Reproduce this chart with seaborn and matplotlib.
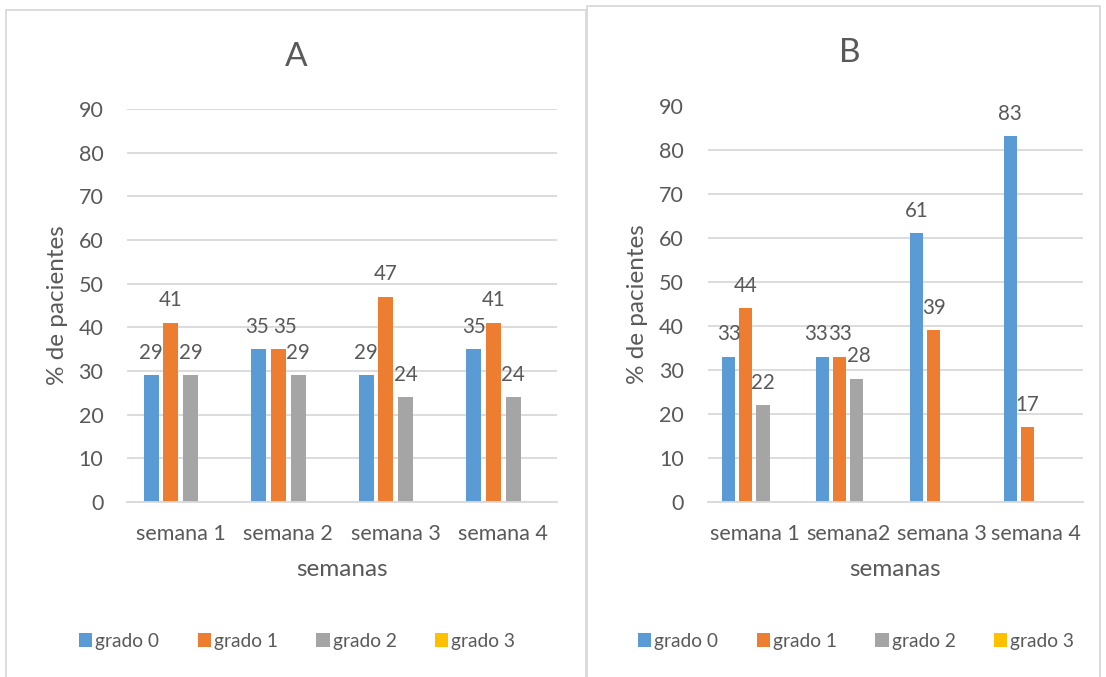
import matplotlib
matplotlib.use("Agg")
import matplotlib.pyplot as plt
from matplotlib.patches import Rectangle
import pandas as pd
import seaborn as sns

# ---- data -------------------------------------------------------------
grados = ["grado 0", "grado 1", "grado 2", "grado 3"]
colores = ["#5B9BD5", "#ED7D31", "#A5A5A5", "#FFC000"]

semanas_a = ["semana 1", "semana 2", "semana 3", "semana 4"]
a_grado0 = [29, 35, 29, 35]
a_grado1 = [41, 35, 47, 41]
a_grado2 = [29, 29, 24, 24]
a_grado3 = [0, 0, 0, 0]

semanas_b = ["semana 1", "semana2", "semana 3", "semana 4"]
b_grado0 = [33, 33, 61, 83]
b_grado1 = [44, 33, 39, 17]
b_grado2 = [22, 28, 0, 0]
b_grado3 = [0, 0, 0, 0]

yticks = [0, 10, 20, 30, 40, 50, 60, 70, 80, 90]

# ---- styling ----------------------------------------------------------
sns.set_theme(style="white")
plt.rcParams["font.family"] = ["Lato", "DejaVu Sans"]
TXT = "#595959"
GRID = "#D9D9D9"
FS_TICK = 15.5
FS_VAL = 14.8
FS_LAB = 17.5
FS_LEG = 13.8
LABEL_PAD = 9

W, H = 1106, 677
fig = plt.figure(figsize=(W / 100, H / 100), dpi=100)


def fx(px):
    return px / W


def fy(py):
    return 1 - py / H


def long_table(semanas, series):
    rows = []
    for g, vals in zip(grados, series):
        for s, v in zip(semanas, vals):
            rows.append({"semana": s, "grado": g, "pct": v})
    return pd.DataFrame(rows)


def panel(frame, axrect, semanas, series, title, title_xy, ylab_x, leg_xy,
          nudges=None):
    nudges = nudges or {}
    # chart-area frame
    x0, y0, x1, y1 = frame
    fig.add_artist(Rectangle((fx(x0), fy(y1)), fx(x1) - fx(x0), fy(y0) - fy(y1),
                             transform=fig.transFigure, fill=False,
                             edgecolor=GRID, linewidth=1.3))
    l, t, r, b = axrect
    ax = fig.add_axes([fx(l), fy(b), fx(r) - fx(l), fy(t) - fy(b)])
    df = long_table(semanas, series)
    sns.barplot(data=df, x="semana", y="pct", hue="grado", hue_order=grados,
                order=semanas, palette=colores, saturation=1, width=0.73,
                gap=0.23, errorbar=None, linewidth=0, ax=ax, legend=True)
    for hi, cont in enumerate(ax.containers):
        labs = [f"{v:g}" if v else "" for v in cont.datavalues]
        anns = ax.bar_label(cont, labels=labs, padding=LABEL_PAD,
                            fontsize=FS_VAL, color=TXT)
        # shift crowded value labels sideways (pixels -> points)
        for ci, ann in enumerate(anns):
            dx = nudges.get((ci, hi), 0) * 0.72
            ann.xyann = (dx, LABEL_PAD)
    ax.set_ylim(0, 90)
    ax.set_yticks(yticks)
    ax.yaxis.grid(True, color=GRID, linewidth=1.3)
    ax.set_axisbelow(True)
    for s in ["top", "right", "left"]:
        ax.spines[s].set_visible(False)
    ax.spines["bottom"].set_color(GRID)
    ax.spines["bottom"].set_linewidth(1.3)
    ax.tick_params(axis="both", length=0, labelsize=FS_TICK, labelcolor=TXT)
    ax.tick_params(axis="y", pad=17)
    ax.tick_params(axis="x", pad=16)
    ax.set_xlabel("semanas", fontsize=FS_LAB, color=TXT, labelpad=11)
    ax.set_ylabel("% de pacientes", fontsize=FS_LAB, color=TXT,
                  va="center", rotation_mode="anchor")
    ax.yaxis.set_label_coords((ylab_x - l) / (r - l), 0.5)
    sns.move_legend(ax, loc="center", bbox_to_anchor=(fx(leg_xy[0]), fy(leg_xy[1])),
                    bbox_transform=fig.transFigure, ncol=4, frameon=False,
                    title=None, fontsize=FS_LEG, handlelength=0.7,
                    handleheight=0.7, handletextpad=0.15, columnspacing=2.0)
    for txt in ax.get_legend().get_texts():
        txt.set_color(TXT)
    fig.text(fx(title_xy[0]), fy(title_xy[1]), title, ha="center",
             va="baseline", fontsize=24, color=TXT)
    return ax


panel((6, 10, 586, 690), (127, 109, 557, 502), semanas_a,
      [a_grado0, a_grado1, a_grado2, a_grado3], "A", (296, 66), 57, (297, 641),
      nudges={(1, 0): -2, (1, 1): 7})
panel((587, 6, 1100, 690), (707.5, 105.5, 1083, 502), semanas_b,
      [b_grado0, b_grado1, b_grado2, b_grado3], "B", (850, 62), 637, (856, 641),
      nudges={(1, 0): -7, (1, 2): 2})

fig.savefig("out.png", dpi=100, facecolor="white")
